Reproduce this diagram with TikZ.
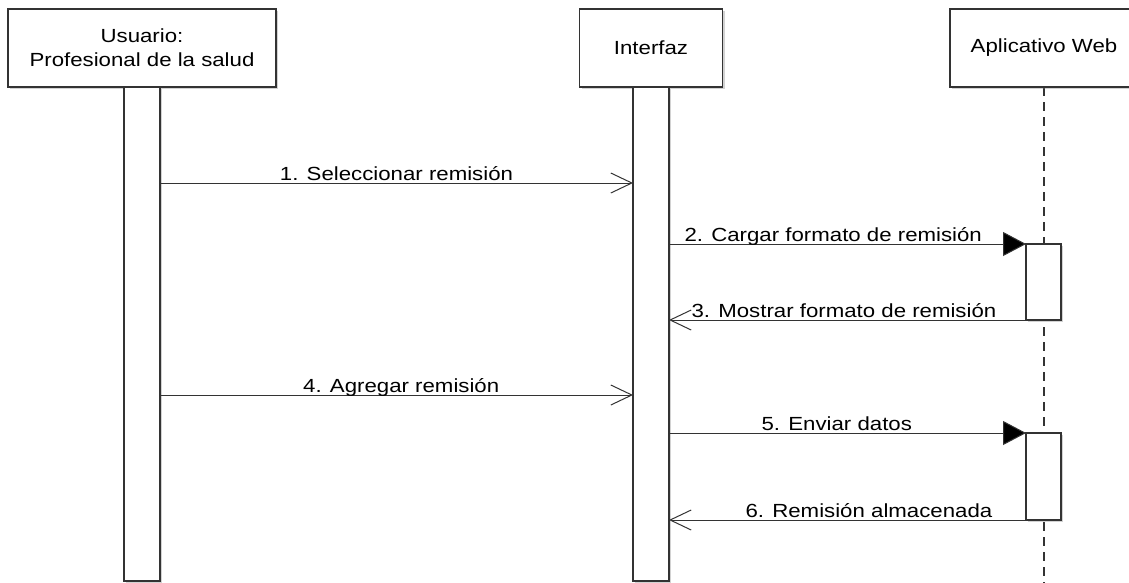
\documentclass[tikz,border=0pt]{standalone}
\usepackage{fontspec}
\setmainfont{Liberation Sans}[FakeStretch=1.17]
\usetikzlibrary{arrows.meta,shadows}
\definecolor{ink}{HTML}{333333}
\begin{document}
\begin{tikzpicture}[x=1pt,y=-1pt,
  font=\fontsize{19}{24}\selectfont,
  every node/.style={inner sep=0pt, outer sep=0pt},
  actor/.style={draw=ink, line width=1.4pt, fill=white, align=center,
    minimum height=78pt,
    drop shadow={shadow xshift=2pt, shadow yshift=-2pt, opacity=0.35, fill=gray}},
  actbar/.style={draw=ink, line width=1.4pt, fill=white, minimum width=36pt,
    drop shadow={shadow xshift=2pt, shadow yshift=-2pt, opacity=0.35, fill=gray}},
  lifeline/.style={draw=ink, line width=1.4pt, dash pattern=on 9pt off 6pt},
  syncmsg/.style={draw=ink, line width=1pt, -{Triangle[length=23pt,width=24pt,fill=black]}},
  openmsg/.style={draw=ink, line width=1pt, -{Straight Barb[length=21pt,width=20pt,line width=1pt]}},
  msglabel/.style={anchor=base, text=black}]
\clip (0,0) rectangle (1129,582);
\fill[white] (0,0) rectangle (1129,582);

% participants
\node[actor, minimum width=268pt] (user) at (142,48) {Usuario:\\Profesional de la salud};
\node[actor, minimum width=143pt] (ui) at (651,48) {Interfaz};

% lifeline of the web application, drawn behind its boxes
\coordinate (webtop) at (1044,87);
\coordinate (webbot) at (1044,590);
\draw[lifeline] (webtop) -- (webbot);
\node[actor, minimum width=188pt] (web) at (1044,48) {Aplicativo Web};

% activation bars
\node[actbar, minimum height=494pt] (ubar) at (142,334) {};
\node[actbar, minimum height=494pt] (ibar) at (651,334) {};
\node[actbar, minimum height=76pt, minimum width=35pt] (wact1) at (1043.5,282) {};
\node[actbar, minimum height=87pt, minimum width=35pt] (wact2) at (1043.5,476.5) {};

% message heights
\coordinate (y1) at (0,183);
\coordinate (y4) at (0,395);

% messages
\draw[openmsg] (ubar.east |- y1) -- (ibar.west |- y1)
  node[msglabel, pos=0.5, yshift=3pt] {1. Seleccionar remisión};
\draw[syncmsg] (ibar.east |- wact1.north) -- (wact1.north west)
  node[msglabel, pos=0.46, yshift=3pt] {2. Cargar formato de remisión};
\draw[openmsg] (wact1.south west) -- (ibar.east |- wact1.south)
  node[msglabel, pos=0.51, yshift=3pt] {3. Mostrar formato de remisión};
\draw[openmsg] (ubar.east |- y4) -- (ibar.west |- y4)
  node[msglabel, pos=0.51, yshift=3pt] {4. Agregar remisión};
\draw[syncmsg] (ibar.east |- wact2.north) -- (wact2.north west)
  node[msglabel, pos=0.47, yshift=3pt] {5. Enviar datos};
\draw[openmsg] (wact2.south west) -- (ibar.east |- wact2.south)
  node[msglabel, pos=0.44, yshift=3pt] {6. Remisión almacenada};
\end{tikzpicture}
\end{document}
